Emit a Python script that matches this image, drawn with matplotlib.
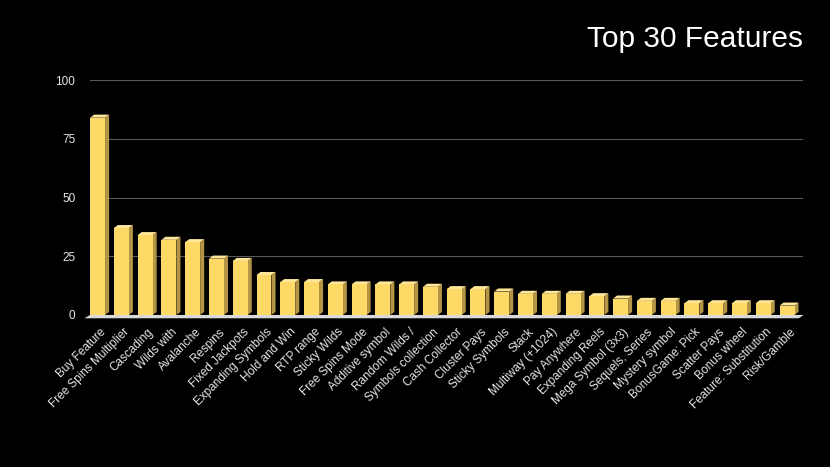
import numpy as np
import matplotlib
matplotlib.use("Agg")
import matplotlib.pyplot as plt
from matplotlib.patches import Polygon

# Feature names and counts
features = [
    "Buy Feature", "Free Spins Multiplier", "Cascading", "Wilds with",
    "Avalanche", "Respins", "Fixed Jackpots", "Expanding Symbols",
    "Hold and Win", "RTP range", "Sticky Wilds", "Free Spins Mode",
    "Additive symbol", "Random Wilds /", "Symbols collection",
    "Cash Collector", "Cluster Pays", "Sticky Symbols", "Stack",
    "Multiway (+1024)", "Pay Anywhere", "Expanding Reels",
    "Mega Symbol (3x3)", "Sequels, Series", "Mystery symbol",
    "BonusGame: Pick", "Scatter Pays", "Bonus wheel",
    "Feature: Substitution", "Risk/Gamble",
]
counts = [84, 37, 34, 32, 31, 24, 23, 17, 14, 14, 13, 13, 13, 13, 12,
          11, 11, 10, 9, 9, 9, 8, 7, 6, 6, 5, 5, 5, 5, 4]
yticks = [0, 25, 50, 75, 100]

front_col = "#FFD966"
side_col = "#B39545"
top_col = "#FFE699"
text_col = "#E6E6E6"

plt.rcParams["font.family"] = ["Liberation Sans", "DejaVu Sans"]

fig = plt.figure(figsize=(8.3, 4.67), dpi=100, facecolor="black")
ax = fig.add_axes([0.1084, 0.3255, 0.859, 0.503])
ax.set_facecolor("black")

x = np.arange(len(counts))
w = 0.63      # front face width
dx = 0.17     # depth offset in x (data units)
dy = 1.3      # depth offset in y (data units)

# floor strip
floor = Polygon([(-0.55, -1.4), (29.5, -1.4), (29.69, 0.0), (-0.32, 0.0)],
                closed=True, facecolor="#D9D9D9", edgecolor="none", zorder=2,
                clip_on=False)
ax.add_patch(floor)

for xi, v in zip(x, counts):
    l, r = xi - w / 2, xi + w / 2
    side = Polygon([(r, 0), (r + dx, dy), (r + dx, v + dy), (r, v)],
                   closed=True, facecolor=side_col, edgecolor="none", zorder=3)
    top = Polygon([(l, v), (l + dx, v + dy), (r + dx, v + dy), (r, v)],
                  closed=True, facecolor=top_col, edgecolor="none", zorder=3)
    ax.add_patch(side)
    ax.add_patch(top)

ax.bar(x, counts, width=w, color=front_col, edgecolor="none", zorder=4)

ax.set_xlim(-0.32, 29.67)
ax.set_ylim(0, 100)
ax.set_yticks(yticks)
ax.yaxis.grid(True, color="#595959", linewidth=0.8)
ax.set_axisbelow(True)
for s in ax.spines.values():
    s.set_visible(False)
ax.tick_params(axis="both", length=0, colors=text_col, labelsize=8.5)
ax.tick_params(axis="y", pad=10.5)

ax.set_xticks(x + 0.1)
ax.set_xticklabels(features, rotation=45, ha="right", va="top",
                   rotation_mode="anchor", color=text_col, fontsize=8.5)
ax.tick_params(axis="x", pad=8)

fig.text(0.968, 0.9165, "Top 30 Features", color="white", fontsize=21.5,
         ha="right", va="center")

fig.savefig("out.png", dpi=100, facecolor="black")
